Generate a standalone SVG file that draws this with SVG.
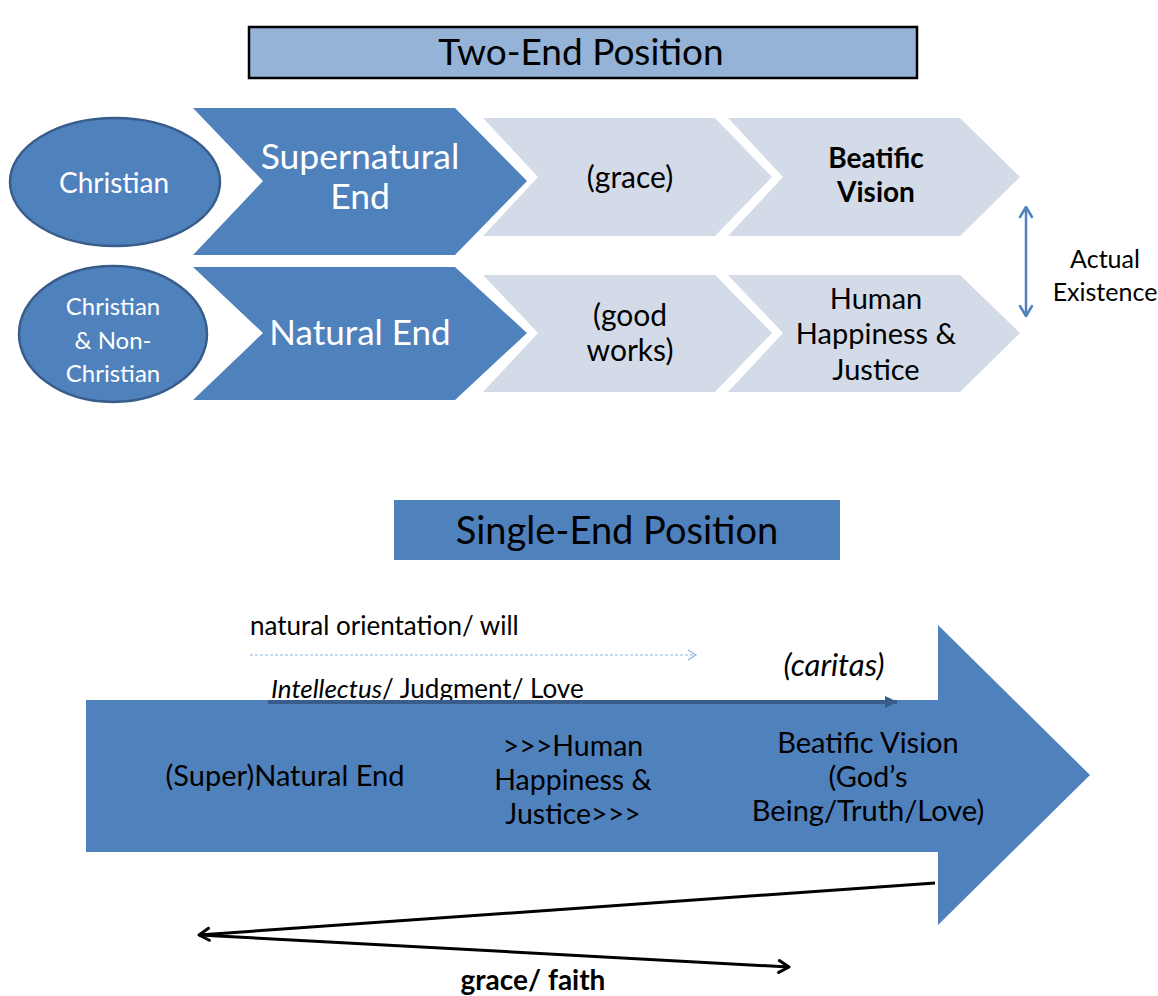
<svg xmlns="http://www.w3.org/2000/svg" width="1158" height="996" viewBox="0 0 1158 996">
<style>
.t{font-family:Lato,"Liberation Sans",sans-serif;text-anchor:middle;dominant-baseline:central}
.s{text-anchor:start}
.w{fill:#fff}
.k{fill:#000}
.blue{fill:#4f81bd}
.light{fill:#d3dbe8}
</style>
<defs>
<marker id="open" markerWidth="12" markerHeight="12" refX="10" refY="6" orient="auto" markerUnits="userSpaceOnUse">
<path d="M2,1 L10,6 L2,11" fill="none" stroke="#8db3e2" stroke-width="1.2"/>
</marker>
<marker id="dark" markerWidth="14" markerHeight="14" refX="12" refY="7" orient="auto" markerUnits="userSpaceOnUse">
<path d="M0,1 L13,7 L0,13 Z" fill="#385d8a"/>
</marker>
<marker id="blk" markerWidth="16" markerHeight="16" refX="14" refY="8" orient="auto" markerUnits="userSpaceOnUse">
<path d="M4,2 L14,8 L4,14" fill="none" stroke="#000" stroke-width="3" stroke-linecap="round" stroke-linejoin="round"/>
</marker>
<marker id="bl" markerWidth="16" markerHeight="16" refX="13" refY="8" orient="auto-start-reverse" markerUnits="userSpaceOnUse">
<path d="M3,2 L13,8 L3,14" fill="none" stroke="#4f81bd" stroke-width="2.5" stroke-linecap="round" stroke-linejoin="round"/>
</marker>
</defs>

<g id="title-two-end">
<rect x="249" y="27" width="668" height="51" fill="#95b3d7" stroke="#000" stroke-width="2.5"/>
<text class="t k" x="581" y="50" font-size="37">Two-End Position</text>
</g>

<g id="christian">
<ellipse cx="115" cy="182" rx="105" ry="64" class="blue" stroke="#385d8a" stroke-width="2.5"/>
<text class="t w" x="114" y="182" font-size="28">Christian</text>
</g>
<g id="christian-non">
<ellipse cx="113" cy="334" rx="94" ry="68" class="blue" stroke="#385d8a" stroke-width="2.5"/>
<text class="t w" x="113" y="305" font-size="24">Christian</text>
<text class="t w" x="113" y="339" font-size="24">&amp; Non-</text>
<text class="t w" x="113" y="372" font-size="24">Christian</text>
</g>

<g id="supernatural-end">
<polygon class="blue" points="193,108 455,108 527,181 455,255 193,255 263,181"/>
<text class="t w" x="360" y="155" font-size="35.5">Supernatural</text>
<text class="t w" x="360" y="195" font-size="35.5">End</text>
</g>
<g id="natural-end">
<polygon class="blue" points="193,267 455,267 527,333 455,400 193,400 263,333"/>
<text class="t w" x="360" y="331" font-size="35">Natural End</text>
</g>

<g id="grace">
<polygon class="light" points="483,118 715,118 772,177 715,236 483,236 538,177"/>
<text class="t k" x="630" y="176" font-size="30">(grace)</text>
</g>
<g id="beatific-vision">
<polygon class="light" points="728,118 960,118 1020,177 960,236 728,236 783,177"/>
<text class="t k" x="876" y="157" font-size="28" font-weight="bold">Beatific</text>
<text class="t k" x="876" y="191" font-size="28" font-weight="bold">Vision</text>
</g>
<g id="good-works">
<polygon class="light" points="483,275 715,275 772,333 715,392 483,392 538,333"/>
<text class="t k" x="630" y="314" font-size="30">(good</text>
<text class="t k" x="630" y="349" font-size="30">works)</text>
</g>
<g id="human-happiness">
<polygon class="light" points="728,275 960,275 1020,333 960,392 728,392 783,333"/>
<text class="t k" x="876" y="297" font-size="29">Human</text>
<text class="t k" x="876" y="332" font-size="29">Happiness &amp;</text>
<text class="t k" x="876" y="368" font-size="29">Justice</text>
</g>

<g id="actual-existence">
<text class="t k" x="1105" y="258" font-size="25">Actual</text>
<text class="t k" x="1105" y="291" font-size="25">Existence</text>
</g>

<g id="title-single-end">
<rect x="394" y="500" width="446" height="60" class="blue"/>
<text class="t k" x="617" y="529" font-size="38">Single-End Position</text>
</g>

<g id="big-arrow">
<polygon class="blue" points="86,700 938,700 938,625 1090,775 938,925 938,852 86,852"/>
<text class="t k" x="285" y="774" font-size="29">(Super)Natural End</text>
<text class="t k" x="573" y="745" font-size="28.5">&gt;&gt;&gt;Human</text>
<text class="t k" x="573" y="779" font-size="28.5">Happiness &amp;</text>
<text class="t k" x="573" y="813" font-size="28.5">Justice&gt;&gt;&gt;</text>
<text class="t k" x="868" y="741" font-size="29">Beatific Vision</text>
<text class="t k" x="868" y="775" font-size="29">(God’s</text>
<text class="t k" x="868" y="809" font-size="29">Being/Truth/Love)</text>
</g>

<g id="labels">
<text class="t s k" x="250" y="625" font-size="26">natural orientation/ will</text>
<text class="t k" x="834" y="664" font-size="31" font-style="italic">(caritas)</text>
<text class="t s k" x="271" y="688" font-size="26"><tspan font-style="italic">Intellectus</tspan>/ Judgment/ Love</text>
<text class="t k" x="533" y="979" font-size="28" font-weight="bold">grace/ faith</text>
</g>

<g id="connectors">
<line x1="1026" y1="207" x2="1026" y2="316" stroke="#4f81bd" stroke-width="2.5" marker-start="url(#bl)" marker-end="url(#bl)"/>
<line x1="250" y1="655" x2="696" y2="655" stroke="#8db3e2" stroke-width="1.2" stroke-dasharray="3,2" marker-end="url(#open)"/>
<line x1="268" y1="702" x2="897" y2="702" stroke="#385d8a" stroke-width="4" marker-end="url(#dark)"/>
<line x1="935" y1="883" x2="199" y2="935" stroke="#000" stroke-width="3" marker-end="url(#blk)"/>
<line x1="199" y1="935" x2="789" y2="967" stroke="#000" stroke-width="3" marker-end="url(#blk)"/>
</g>
</svg>
